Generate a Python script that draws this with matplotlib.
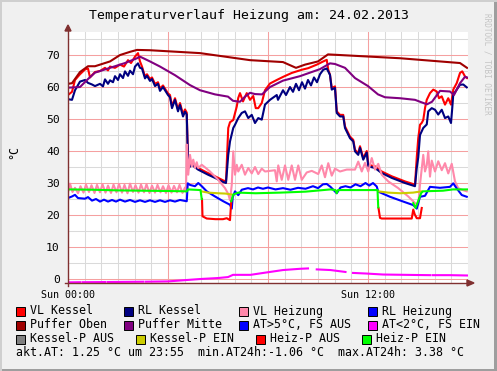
import numpy as np
import matplotlib
matplotlib.use("Agg")
import matplotlib.pyplot as plt
from matplotlib.patches import Rectangle, Polygon
from matplotlib.lines import Line2D

plt.rcParams['font.family'] = ['DejaVu Sans Mono']

nan = np.nan

# ---- data: time in hours since Sun 00:00, temperatures in degC ----
vlk_t = [0.00,0.16,0.28,0.48,0.68,0.80,0.88,1.08,1.28,1.48,1.60,1.68,1.88,2.08,2.24,2.40,2.52,2.68,2.80,2.88,
         2.96,3.08,3.16,3.28,3.36,3.48,3.60,3.68,3.80,3.88,4.00,4.08,4.16,4.28,4.40,4.48,4.60,4.68,4.75,4.79,
         4.82,4.95,5.20,5.60,5.88,6.21,6.32,6.41,6.48,6.61,6.75,6.81,6.88,7.00,7.15,7.28,7.41,7.51,7.61,7.75,
         7.88,8.08,8.35,8.61,8.95,9.35,9.61,9.95,10.21,10.35,10.41,10.48,10.55,10.68,10.75,10.88,11.01,11.08,11.28,11.41,
         11.48,11.61,11.68,11.81,11.95,12.01,12.28,12.55,12.95,13.48,13.88,13.95,14.01,14.08,14.15,14.21,14.28,14.35,14.48,14.61,
         14.75,14.84,14.95,15.08,15.21,15.32,15.41,15.55,15.68,15.77,15.88,15.96]
vlk_v = [57.5,58.5,62.2,64,65.5,65.8,63,64.7,65,66,65.2,66.4,66,67,66.4,68.4,67.5,69.5,70.6,68,
         66.4,63.3,64,62.5,63,61,61.5,59.5,60.5,59.5,58,57.5,54,56.5,53,55,51.5,53,52,40,
         35.2,36.2,34.7,33.1,32.1,30.8,30.5,47.2,49,49.7,53.9,56.6,58.1,55.5,58.1,56,57.2,53.4,53.4,55,
         59,61.1,62.2,63.2,64.4,65.4,65.9,67,68,68.5,65.4,63.8,59.7,60.2,52.4,51.3,51.3,47.7,44.5,43.5,
         40.4,39.3,41.5,37.8,40,35.7,35.2,33.6,32.1,30.5,29.5,38,44,48.2,48.8,49.7,53.4,56,58.1,59.2,
         58.6,56.5,57.1,54.5,56.5,54.5,59.2,61.25,64.4,64.9,63.3,62.8]

rlk_t = [0.00,0.16,0.28,0.48,0.68,0.80,0.96,1.08,1.28,1.40,1.48,1.60,1.68,1.80,1.88,2.00,2.08,2.20,2.28,2.40,
         2.48,2.60,2.68,2.80,2.88,2.96,3.08,3.16,3.28,3.36,3.48,3.60,3.68,3.80,3.88,4.00,4.08,4.16,4.28,4.40,
         4.48,4.60,4.68,4.75,4.79,4.82,4.95,5.20,5.60,5.88,6.21,6.32,6.41,6.48,6.61,6.68,6.81,6.95,7.08,7.21,
         7.35,7.48,7.61,7.75,7.88,8.08,8.35,8.40,8.60,8.72,8.88,9.00,9.12,9.24,9.36,9.48,9.60,9.72,9.84,9.96,
         10.08,10.21,10.35,10.48,10.55,10.68,10.75,10.88,11.01,11.08,11.28,11.41,11.48,11.61,11.68,11.81,11.95,12.01,12.28,12.55,
         12.95,13.48,13.88,13.95,14.01,14.08,14.21,14.35,14.41,14.55,14.68,14.81,14.95,15.08,15.21,15.32,15.37,15.41,15.55,15.68,
         15.81,15.95]
rlk_v = [56.2,56,59,61.7,62.2,61.3,60.8,60.3,61,60.2,62.4,61,62.1,61.5,63.4,62.2,64,62.8,64.9,63.5,
         65.1,64,66.4,67.4,66,65.8,62.7,63.5,61.9,62.5,60.3,61,58.8,60,59,57.5,56.8,53.4,56,52.4,
         54.4,50.8,52.3,51.4,40,34.7,35.7,34.2,32.6,31.6,30.3,30,38.8,43,47.2,48.2,50.3,51.9,52.4,50.3,
         51.3,48.75,50.3,49.8,54.5,56,57.5,56,59,57.5,60,58.5,61,59,61.5,59.5,62.2,60.5,63,61.5,
         64,65.4,65.8,63.8,59.2,59.7,51.9,50.8,50.8,47.2,44,43,39.9,38.8,41,37.3,39.5,35.2,34.7,33.1,
         31.6,30,29,34.7,38,45,47.2,48.3,52.4,53.4,52.9,51.4,52.9,50.3,50.8,48.75,53.4,57.6,59.2,60.7,
         60.8,59.9]

vlh_t = [0.00,0.08,0.18,0.28,0.40,0.50,0.62,0.72,0.84,0.94,1.06,1.16,1.28,1.38,1.50,1.60,1.72,1.82,1.94,2.04,
         2.16,2.26,2.38,2.48,2.60,2.70,2.82,2.92,3.04,3.14,3.26,3.36,3.48,3.58,3.70,3.80,3.92,4.02,4.14,4.24,
         4.36,4.46,4.58,4.68,4.72,4.75,4.81,4.88,4.95,5.01,5.08,5.15,5.21,5.35,5.48,5.68,6.01,6.28,6.41,6.48,
         6.55,6.61,6.68,6.75,6.81,6.95,7.08,7.21,7.35,7.48,7.61,7.75,7.88,8.28,8.35,8.41,8.55,8.68,8.81,8.95,
         9.08,9.21,9.35,9.55,9.75,10.01,10.15,10.28,10.41,10.55,10.68,10.88,11.15,11.48,11.61,11.75,11.88,12.01,12.15,12.28,
         12.41,12.55,12.81,13.21,13.61,13.88,14.01,14.08,14.21,14.28,14.35,14.41,14.48,14.55,14.68,14.81,14.95,15.08,15.21,15.35,
         15.48,15.61,15.75,15.95]
vlh_v = [27.0,29.8,27.2,28.5,26.8,29.0,27.0,29.5,27.2,29.3,26.9,29.4,27.1,29.6,27.0,29.2,26.9,29.5,27.1,29.7,
         27.0,29.4,26.8,29.8,27.2,29.3,27.0,29.5,27.1,29.6,26.9,29.2,27.0,29.4,27.1,29.0,26.9,29.3,27.0,29.1,
         27.1,29.4,26.9,28.6,27.3,42.0,32.6,38.8,35.2,37.3,34.7,36.5,34.7,35.7,34.9,33.6,31.0,28.4,26.6,24.6,
         29.4,39.9,32.6,35.7,33.6,35.7,32.6,34.7,33.0,35.0,32.8,34.5,33.6,34.0,30.5,35.5,31.0,35.5,31.0,35.5,
         31.0,35.5,31.0,33.3,33.8,32.8,35.5,31.8,36.2,32.3,34.5,33.6,34.2,34.2,36.7,33.6,36.3,33.6,37.8,34.2,
         36.0,32.6,30.5,28.4,25.8,23.75,23.2,29.5,38.8,33.6,35.5,39.9,32.0,37.0,33.6,36.8,34.0,36.2,33.0,36.0,
         30.5,28.4,27.9,27.4]

rlh_t = [0.00,0.16,0.28,0.40,0.68,0.80,0.96,1.12,1.28,1.44,1.60,1.76,1.92,2.08,2.28,2.48,2.68,2.88,3.08,3.28,
         3.48,3.68,3.88,4.08,4.28,4.48,4.75,4.79,4.88,5.08,5.21,5.35,5.55,5.88,6.21,6.48,6.55,6.59,6.68,6.81,
         6.95,7.20,7.40,7.60,7.80,8.00,8.30,8.60,8.90,9.20,9.50,9.80,10.00,10.20,10.35,10.50,10.75,10.90,11.10,11.30,
         11.50,11.70,11.90,12.05,12.20,12.35,12.41,12.88,13.41,13.81,13.95,14.08,14.28,14.48,14.88,15.28,15.41,15.55,15.75,15.95]
rlh_v = [25.3,25.8,26.3,25.3,25.1,25.6,24.5,25,24.2,24.8,24.2,24.7,24.2,24.8,24.2,24.7,24.1,24.6,24.1,24.6,
         24.1,24.6,24.1,24.6,24.2,24.7,24.3,29.9,29.4,29,30,29,27.4,25.8,24.3,23.2,22,25.6,27.4,26.2,
         27.9,28.4,28.0,28.6,28.2,28.6,28.0,28.4,27.9,28.5,28.2,29.0,28.4,29.6,29.7,28.8,26.8,28.6,29.0,28.6,
         29.6,29.0,30.0,29.2,30.0,28.9,27.3,25.7,24.2,23.1,22,25.7,26,28.8,28.5,28.8,29.9,28.3,26.25,25.7]

po_t = [0, 0.16, 0.48, 0.8, 1.08, 1.28, 1.68, 2.08, 2.48, 2.76, 3.28, 5.28, 7.28, 8.6, 9.12, 9.48, 10.0, 10.4, 13.28, 15.68, 15.96]
po_v = [61, 61.2, 64.7, 66.5, 66.5, 67, 68, 70, 71, 71.6, 71.5, 70.6, 68.4, 67.8, 66, 67, 68, 70.2, 69, 67.5, 66]

pm_t = [0, 0.48, 0.8, 1.08, 1.68, 2.28, 2.76, 2.88, 3.28, 3.68, 4.28, 4.88, 5.28, 5.88, 6.4, 6.6, 6.88, 7.08, 7.28, 7.48,
        7.76, 8.08, 8.6, 9.28, 10.08, 10.48, 10.68, 11.08, 11.48, 12.0, 12.4, 12.68, 13.28, 13.88, 14.08, 14.36, 14.56, 14.88,
        15.28, 15.44, 15.68, 15.88, 15.96]
pm_v = [59.8, 60, 62.5, 64.5, 66, 67.5, 69, 69.5, 68, 66.4, 63.7, 60.6, 59, 57.7, 57, 55.7, 55.4, 57, 58.2, 57.8,
        57.7, 60, 62, 63.4, 65.6, 67.4, 67.2, 66, 62.8, 60.3, 57.7, 56.8, 56.5, 56, 55.4, 54.6, 55.4, 58.8,
        58.6, 57.5, 61.2, 63.2, 63]

at_t = [0, 0.5, 0.52, 0.6, 1.5, 1.52, 1.6, 3.0, 3.02, 3.1, 4.0, 5.3, 6.0, 6.4, 6.6, 6.7, 7.3, 7.9, 8.6, 9.3,
        9.6, 9.62, 9.95, 10.5, 11.1, 11.12, 11.4, 11.95, 12.6, 13.95, 14.5, 14.52, 14.6, 15.3, 15.96]
at_v = [-1.05, -1.0, nan, -1.0, -0.95, nan, -0.95, -0.85, nan, -0.85, -0.75, 0, 0.3, 0.6, 1.3, 1.3, 1.3, 2.0, 2.8, 3.2,
        3.3, nan, 3.0, 2.8, 2.2, nan, 1.9, 1.7, 1.4, 1.25, 1.2, nan, 1.2, 1.2, 1.1]

kpe_t = [5.33, 5.6, 6.0, 6.3, 6.55, 6.56, 12.41, 12.8, 13.3, 13.8, 14.15]
kpe_v = [27.4, 27.0, 26.8, 26.7, 26.4, nan, 27.4, 27.0, 26.8, 27.0, 27.4]

hpa_t = [5.36, 5.38, 5.55, 5.9, 6.2, 6.35, 6.48, 6.53, 6.54, 12.42, 12.48, 12.55, 13.2, 13.75, 13.81, 13.87, 13.95, 14.08, 14.15]
hpa_v = [25.0, 19.6, 18.9, 18.7, 18.7, 19.0, 18.4, 24.3, nan, 22.2, 19.1, 18.9, 18.9, 18.9, 21.7, 20.2, 19.0, 19.0, 22.2]

hpe_t = [0, 1, 2, 3, 4, 4.76, 4.8, 5.3, 5.35, 5.36, 6.53, 6.61, 6.81, 7.5, 8.5, 9.5, 10.5, 10.7, 10.75, 10.8,
         11.5, 12.38, 12.41, 12.42, 13.81, 13.9, 14.13, 14.2, 15.0, 15.4, 15.96]
hpe_v = [28, 27.9, 27.7, 27.6, 27.5, 27.4, 28, 27.8, 25.0, nan, 24.3, 26.4, 27, 26.8, 27, 27.3, 28, 27.8, 26.8, 27.8,
         27.8, 27.8, 22.4, nan, 23.7, 22.2, 26.9, 27.4, 27.6, 28, 28]

legend_labels = ["VL Kessel", "RL Kessel", "VL Heizung", "RL Heizung",
                 "Puffer Oben", "Puffer Mitte", "AT>5°C, FS AUS", "AT<2°C, FS EIN",
                 "Kessel-P AUS", "Kessel-P EIN", "Heiz-P AUS", "Heiz-P EIN"]
legend_colors = ["#FF0000", "#000080", "#FF88AA", "#0000FF",
                 "#A00000", "#800080", "#0000FF", "#FF00FF",
                 "#808080", "#CCCC00", "#FF0000", "#00FF00"]
stats_line = "akt.AT: 1.25 °C um 23:55  min.AT24h:-1.06 °C  max.AT24h: 3.38 °C"

# ---- figure ----
W, H = 497, 371
fig = plt.figure(figsize=(W / 100, H / 100), dpi=100, facecolor="#F0F0F0")


def fx(x):
    return x / W


def fy(y):
    return 1 - y / H


ax = fig.add_axes([fx(68), fy(283), 400 / W, 251 / H])
ax.set_facecolor("white")
ax.set_xlim(0, 16)
ax.set_ylim(-1.25, 77.2)

# grid
for x in np.arange(0, 16.01, 2 / 3):
    ax.axvline(x, color="#DADADA", lw=0.75, zorder=0)
for y in range(5, 80, 10):
    ax.axhline(y, color="#DADADA", lw=0.75, zorder=0)
for x in [4, 8, 12]:
    ax.axvline(x, color="#F5A0A0", lw=0.75, zorder=0.5)
for y in range(0, 80, 10):
    ax.axhline(y, color="#F5A0A0", lw=0.75, zorder=0.5)

lw = 1.5
ax.plot(vlk_t, vlk_v, color="#FF0000", lw=lw)
ax.plot(rlk_t, rlk_v, color="#000080", lw=lw)
ax.plot(vlh_t, vlh_v, color="#FF88AA", lw=lw)
ax.plot(rlh_t, rlh_v, color="#0000FF", lw=lw)
ax.plot(po_t, po_v, color="#A00000", lw=lw)
ax.plot(pm_t, pm_v, color="#800080", lw=lw)
ax.plot(at_t, at_v, color="#FF00FF", lw=lw)
ax.plot(kpe_t, kpe_v, color="#CCCC00", lw=lw)
ax.plot(hpa_t, hpa_v, color="#FF0000", lw=lw)
ax.plot(hpe_t, hpe_v, color="#00FF00", lw=lw)

for s in ax.spines.values():
    s.set_visible(False)
ax.set_xticks([0, 12])
ax.set_xticklabels(["Sun 00:00", "Sun 12:00"], fontsize=7.2)
ax.set_yticks(range(0, 80, 10))
ax.set_yticklabels([str(v) for v in range(0, 80, 10)], fontsize=8.2)
ax.tick_params(axis="x", length=0, pad=5)
ax.tick_params(axis="y", length=0, pad=6)

# axes with arrows
axc = "#803030"
fig.add_artist(Line2D([fx(68), fx(68)], [fy(286), fy(30)], color=axc, lw=1))
fig.add_artist(Line2D([fx(65), fx(469)], [fy(283), fy(283)], color=axc, lw=1))
fig.add_artist(Polygon([[fx(65), fy(31)], [fx(71), fy(31)], [fx(68), fy(25)]], closed=True, color=axc))
fig.add_artist(Polygon([[fx(467), fy(280)], [fx(467), fy(286)], [fx(474), fy(283)]], closed=True, color=axc))

# texts
fig.text(fx(249), fy(16), "Temperaturverlauf Heizung am: 24.02.2013", ha="center", va="center", fontsize=9.5)
fig.text(fx(14), fy(152), "°C", rotation=90, ha="center", va="center", fontsize=8.4)
fig.text(fx(487), fy(64), "RRDTOOL / TOBI OETIKER", rotation=-90, ha="center", va="center",
         fontsize=5.5, color="#C4C4C4")

# legend
col_x = [[16, 124, 239, 368], [16, 124, 239, 368], [16, 136, 256, 362]]
row_y = [311, 325, 339]
for i, (lab, col) in enumerate(zip(legend_labels, legend_colors)):
    r, c = divmod(i, 4)
    x0, y0 = col_x[r][c], row_y[r]
    fig.add_artist(Rectangle((fx(x0), fy(y0 + 4.5)), 9 / W, 9 / H, facecolor=col,
                             edgecolor="black", lw=0.7))
    fig.text(fx(x0 + 14), fy(y0), lab, ha="left", va="center", fontsize=8.4)
fig.text(fx(16), fy(353), stats_line, ha="left", va="center", fontsize=8.4)

# image frame
fig.add_artist(Rectangle((0, 0), 1, 2 / H, color="#9E9E9E", lw=0))
fig.add_artist(Rectangle((1 - 3 / W, 0), 3 / W, 1, color="#9E9E9E", lw=0))
fig.add_artist(Rectangle((0, 1 - 2 / H), 1, 2 / H, color="#CFCFCF", lw=0))
fig.add_artist(Rectangle((0, 0), 2 / W, 1, color="#CFCFCF", lw=0))

fig.savefig("out.png", dpi=100, facecolor=fig.get_facecolor())
